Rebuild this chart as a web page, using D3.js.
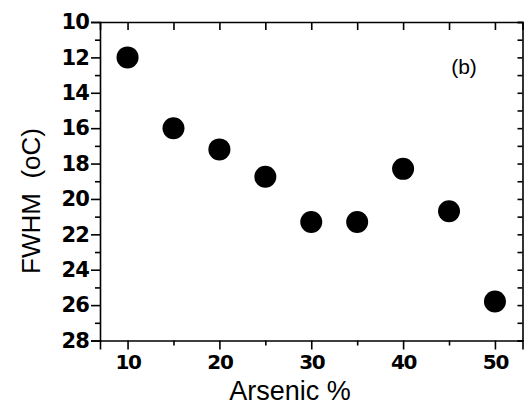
<!DOCTYPE html>
<html>
<head>
<meta charset="utf-8">
<script src="https://cdn.jsdelivr.net/npm/d3@7"></script>
<style>
  html, body { margin: 0; padding: 0; background: #fff; }
  svg { display: block; }
  .tick text { font-family: "DejaVu Sans", sans-serif; font-weight: bold; font-size: 20px; letter-spacing: -1.3px; fill: #000; }
  .yaxis .tick text { font-size: 21px; letter-spacing: -0.8px; }
  .domain, .tick line { stroke: #000; stroke-width: 1.6px; }
</style>
</head>
<body>
<script>
// Arsenic content (%) and FWHM (°C) of each sample
const arsenic = [10, 15, 20, 25, 30, 35, 40, 45, 50];
const fwhm = [12.0, 16.0, 17.2, 18.75, 21.3, 21.3, 18.3, 20.7, 25.8];

const xMajor = [10, 20, 30, 40, 50];
const xMinor = [15, 25, 35, 45];
const yMajor = [10, 12, 14, 16, 18, 20, 22, 24, 26, 28];
const yMinor = [11, 13, 15, 17, 19, 21, 23, 25, 27];

const W = 526, H = 406;
const plot = { left: 100, right: 522.5, top: 22, bottom: 340.5 };

const svg = d3.select("body").append("svg").attr("width", W).attr("height", H);

const x = d3.scaleLinear().domain([7, 53]).range([plot.left, plot.right]);
const y = d3.scaleLinear().domain([10, 28]).range([plot.top, plot.bottom]); // reversed: 10 at top

// bottom axis
svg.append("g").attr("transform", `translate(0,${plot.bottom})`)
  .call(d3.axisBottom(x).tickValues(xMajor).tickSize(9).tickPadding(5).tickFormat(d3.format("d")));
svg.append("g").attr("transform", `translate(0,${plot.bottom})`)
  .call(d3.axisBottom(x).tickValues(xMinor).tickSize(5).tickFormat(""))
  .select(".domain").remove();

// left axis
svg.append("g").attr("class", "yaxis").attr("transform", `translate(${plot.left},0)`)
  .call(d3.axisLeft(y).tickValues(yMajor).tickSize(9).tickPadding(2).tickFormat(d3.format("d")));
svg.append("g").attr("transform", `translate(${plot.left},0)`)
  .call(d3.axisLeft(y).tickValues(yMinor).tickSize(5).tickFormat(""))
  .select(".domain").remove();

// top axis, ticks pointing inward
svg.append("g").attr("transform", `translate(0,${plot.top})`)
  .call(d3.axisTop(x).tickValues(xMajor.concat(xMinor)).tickSize(-8).tickFormat(""));

// right axis, ticks pointing inward
svg.append("g").attr("transform", `translate(${plot.right},0)`)
  .call(d3.axisRight(y).tickValues(yMajor.concat(yMinor)).tickSize(-5).tickFormat(""));

// data points
svg.append("g").selectAll("circle")
  .data(arsenic.map((a, i) => ({ a, f: fwhm[i] })))
  .join("circle")
  .attr("cx", d => x(d.a))
  .attr("cy", d => y(d.f))
  .attr("r", 11)
  .attr("fill", "#000");

// axis titles
svg.append("text")
  .attr("x", 290)
  .attr("y", 400)
  .attr("text-anchor", "middle")
  .style("font-family", "'Liberation Sans', Arial, sans-serif")
  .style("font-size", "27px")
  .text("Arsenic %");

svg.append("text")
  .attr("transform", `translate(40,201) rotate(-90)`)
  .attr("text-anchor", "middle")
  .style("font-family", "'Liberation Sans', Arial, sans-serif")
  .style("font-size", "26px")
  .style("white-space", "pre")
  .text("FWHM  (oC)");

// panel label
svg.append("text")
  .attr("x", 464)
  .attr("y", 74)
  .attr("text-anchor", "middle")
  .style("font-family", "'Liberation Sans', Arial, sans-serif")
  .style("font-size", "21px")
  .text("(b)");
</script>
</body>
</html>
